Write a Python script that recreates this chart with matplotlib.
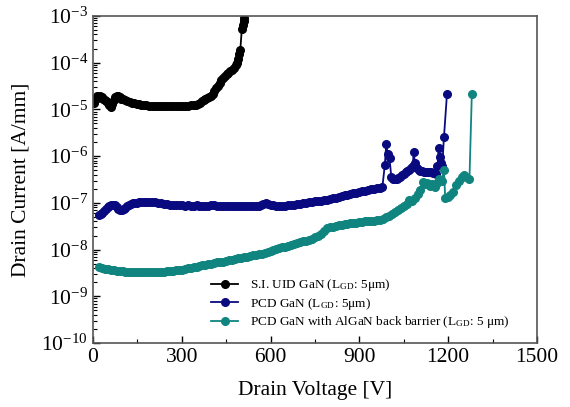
import matplotlib
matplotlib.use('Agg')
import matplotlib.pyplot as plt
import numpy as np
from matplotlib.ticker import MultipleLocator, LogLocator, NullFormatter

plt.rcParams['font.family'] = ['Liberation Serif', 'DejaVu Serif']
plt.rcParams['mathtext.fontset'] = 'stix'

# S.I. UID GaN  (current in 1e-5 A/mm)
v_uid = [5, 10, 15, 20, 25, 30, 35, 40, 45, 50, 55, 60, 65, 70, 75, 80, 85, 90, 95, 100,
         108, 116, 124, 132, 140, 148, 156, 164, 172, 180,
         190, 200, 210, 220, 230, 240, 250, 260, 270, 280, 290, 300, 310, 320, 330, 340,
         348, 355, 362, 368, 374, 380, 386, 392, 398, 404, 410, 416, 422, 428, 434, 440,
         446, 452, 458, 464, 470, 476, 482, 487, 491, 495, 498, 503, 506, 509, 512]
i_uid = [1.4, 1.7, 1.9, 1.8, 1.9, 1.85, 1.7, 1.6, 1.5, 1.4, 1.25, 1.15, 1.3, 1.6, 1.85,
         1.95, 1.9, 1.8, 1.7, 1.65,
         1.58, 1.52, 1.46, 1.4, 1.36, 1.32, 1.28, 1.25, 1.23, 1.22,
         1.2, 1.2, 1.19, 1.2, 1.18, 1.18, 1.19, 1.2, 1.18, 1.18, 1.19, 1.2, 1.2, 1.2, 1.21, 1.22,
         1.26, 1.3, 1.4, 1.5, 1.6, 1.7, 1.75, 1.8, 1.9, 2.1, 2.5, 2.8, 3.2, 3.7, 4.2, 4.7,
         5.2, 5.6, 6.0, 6.5, 7.0, 7.8, 8.8, 10, 12, 15, 19, 52, 65, 78, 90]

# PCD GaN  (current in 1e-8 A/mm)
v_pcd = [20, 26, 32, 38, 44, 50, 56, 62, 68, 74, 80, 86, 92, 98, 104, 110, 116, 122, 128,
         134, 140, 148, 156, 164, 172, 180, 190, 200, 210, 220, 230, 240, 250, 260, 270,
         280, 290, 300, 310, 320, 330, 340, 350, 360, 370, 380, 390, 400, 410, 420, 430,
         440, 450, 460, 470, 480, 490, 500, 510, 520, 530, 540, 550, 560, 568, 576, 584,
         592, 600, 610, 620, 630, 640, 650, 660, 670, 680, 690, 700, 710, 720, 730, 740,
         750, 760, 770, 780, 790, 800, 810, 820, 830, 840, 850, 860, 870, 880, 890, 900,
         910, 920, 930, 940, 950, 960, 970, 978,
         986, 991, 996, 1002, 1008, 1014, 1020, 1026, 1032, 1038, 1044, 1050, 1056, 1062,
         1068, 1074, 1080, 1084, 1088, 1094, 1100, 1106, 1112, 1118, 1124, 1130, 1136,
         1142, 1148, 1154, 1160, 1164, 1168, 1172, 1176, 1180, 1186, 1196]
i_pcd = [5.5, 5.8, 6.2, 6.8, 7.5, 8.0, 8.5, 8.9, 9.2, 8.8, 8.0, 7.4, 7.0, 6.9, 7.3, 7.9,
         8.5, 9.0, 9.4, 9.7, 9.9, 10.0, 10.2, 10.3, 10.5, 10.5, 10.6, 10.5, 10.2, 10.0,
         9.7, 9.5, 9.3, 9.1, 9.0, 8.9, 8.8, 8.8, 8.7, 8.8, 8.7, 8.7, 8.8, 8.6, 8.6, 8.7,
         8.7, 8.8, 8.8, 8.7, 8.6, 8.6, 8.7, 8.6, 8.5, 8.4, 8.4, 8.5, 8.6, 8.5, 8.5, 8.5,
         8.6, 8.7, 9.0, 9.6, 10.0, 9.6, 9.0, 8.8, 8.7, 8.6, 8.6, 8.7, 8.8, 9.0, 9.2, 9.4,
         9.6, 9.8, 10.0, 10.2, 10.5, 10.7, 11.0, 11.2, 11.5, 11.8, 12.0, 12.5, 13.0, 13.5,
         14.0, 14.5, 15.0, 15.5, 16.0, 16.5, 17.0, 17.5, 18.0, 18.8, 19.5, 20.0, 20.5,
         21.0, 22.0,
         64, 180, 110, 90, 36, 33, 32, 32, 34, 36, 39, 42, 45, 47, 50, 55, 62, 120, 70, 56,
         50, 48, 47, 46, 45, 45, 46, 45, 44, 43, 42, 60, 150, 95, 70, 60, 260, 2100]

# PCD GaN with AlGaN back barrier  (current in 1e-9 A/mm)
v_bb = [20, 30, 40, 50, 60, 70, 80, 90, 100, 110, 120, 130, 140, 150, 160, 170, 180, 190,
        200, 210, 220, 230, 240, 250, 260, 270, 280, 290, 300, 310, 320, 330, 340, 350,
        360, 370, 380, 390, 400, 410, 420, 430, 440, 450, 460, 470, 480, 490, 500, 510,
        520, 530, 540, 550, 560, 570, 580, 590, 600, 610, 620, 630, 640, 650, 660, 670,
        680, 690, 700, 710, 720, 730, 740, 750, 760, 770, 780, 790, 800, 810, 820, 830,
        840, 850, 860, 870, 880, 890, 900, 910, 920, 930, 940, 950, 960, 970, 980, 990,
        1000, 1010, 1020, 1030, 1040, 1050, 1060,
        1068, 1078, 1088, 1098, 1106, 1114, 1122, 1130, 1138, 1146, 1154, 1162, 1170,
        1178, 1186, 1190, 1198, 1206, 1216, 1226, 1236, 1246, 1252, 1262, 1272, 1280]
i_bb = [4.3, 4.0, 3.8, 3.9, 3.7, 3.6, 3.55, 3.5, 3.45, 3.4, 3.4, 3.4, 3.35, 3.35, 3.3,
        3.3, 3.25, 3.25, 3.3, 3.3, 3.35, 3.4, 3.4, 3.45, 3.5, 3.55, 3.6, 3.7, 3.75, 3.85,
        3.95, 4.05, 4.2, 4.3, 4.45, 4.6, 4.7, 4.85, 5.0, 5.1, 5.3, 5.4, 5.55, 5.7, 5.9,
        6.1, 6.3, 6.5, 6.7, 6.9, 7.1, 7.3, 7.5, 7.7, 7.9, 8.2, 8.5, 9.0, 9.5, 10.0, 10.5,
        10.9, 11.2, 11.5, 11.9, 12.4, 13.0, 13.6, 14.3, 15.0, 15.6, 16.3, 17.2, 18.2, 19.5,
        21.5, 25, 28.5, 30, 31, 32, 33, 34, 35, 36, 37, 37.5, 38, 38.5, 39, 40, 40.5, 41,
        41, 42, 43, 45, 49, 53, 57, 63, 70, 78, 86, 95,
        115, 110, 125, 155, 185, 280, 250, 260, 230, 250, 220, 260, 320, 300, 500, 130,
        135, 150, 170, 240, 290, 360, 390, 350, 320, 21000]

labels = ['S.I. UID GaN (L$_\\mathregular{GD}$: 5\u03bcm)',
          'PCD GaN (L$_\\mathregular{GD}$: 5\u03bcm)',
          'PCD GaN with AlGaN back barrier (L$_\\mathregular{GD}$: 5 \u03bcm)']
colors = ['#000000', '#0a0a80', '#10857f']

series = [
    (v_uid, np.array(i_uid) * 1e-5),
    (v_pcd, np.array(i_pcd) * 1e-8),
    (v_bb, np.array(i_bb) * 1e-9),
]

fig = plt.figure(figsize=(5.7, 4.07), dpi=100)
ax = fig.add_axes([0.163, 0.157, 0.779, 0.804])

for (v, i), c, lab in zip(series, colors, labels):
    ax.plot(v, i, color=c, marker='o', markersize=5.5, linewidth=1.3, label=lab)

ax.set_yscale('log')
ax.set_xlim(0, 1500)
ax.set_ylim(1e-10, 1e-3)
ax.xaxis.set_major_locator(MultipleLocator(300))
ax.xaxis.set_minor_locator(MultipleLocator(150))
ax.yaxis.set_major_locator(LogLocator(base=10, numticks=20))
ax.yaxis.set_minor_locator(LogLocator(base=10, subs=range(2, 10), numticks=20))
ax.yaxis.set_minor_formatter(NullFormatter())
ax.tick_params(which='both', direction='in', top=False, right=False,
               labelsize=15.5, colors='#000000')
ax.tick_params(which='major', length=5, width=1)
ax.tick_params(which='minor', length=3, width=0.8)
for s in ax.spines.values():
    s.set_color('#555555')
    s.set_linewidth(1.2)

ax.set_xlabel('Drain Voltage [V]', fontsize=15.5, labelpad=10)
ax.set_ylabel('Drain Current [A/mm]', fontsize=15.5, labelpad=8)

ax.legend(loc='center left', bbox_to_anchor=(0.255, 0.12), frameon=False,
          fontsize=9.5, handlelength=2.0, handletextpad=0.9, labelspacing=0.2,
          borderaxespad=0)

fig.savefig('out.png', dpi=100)
